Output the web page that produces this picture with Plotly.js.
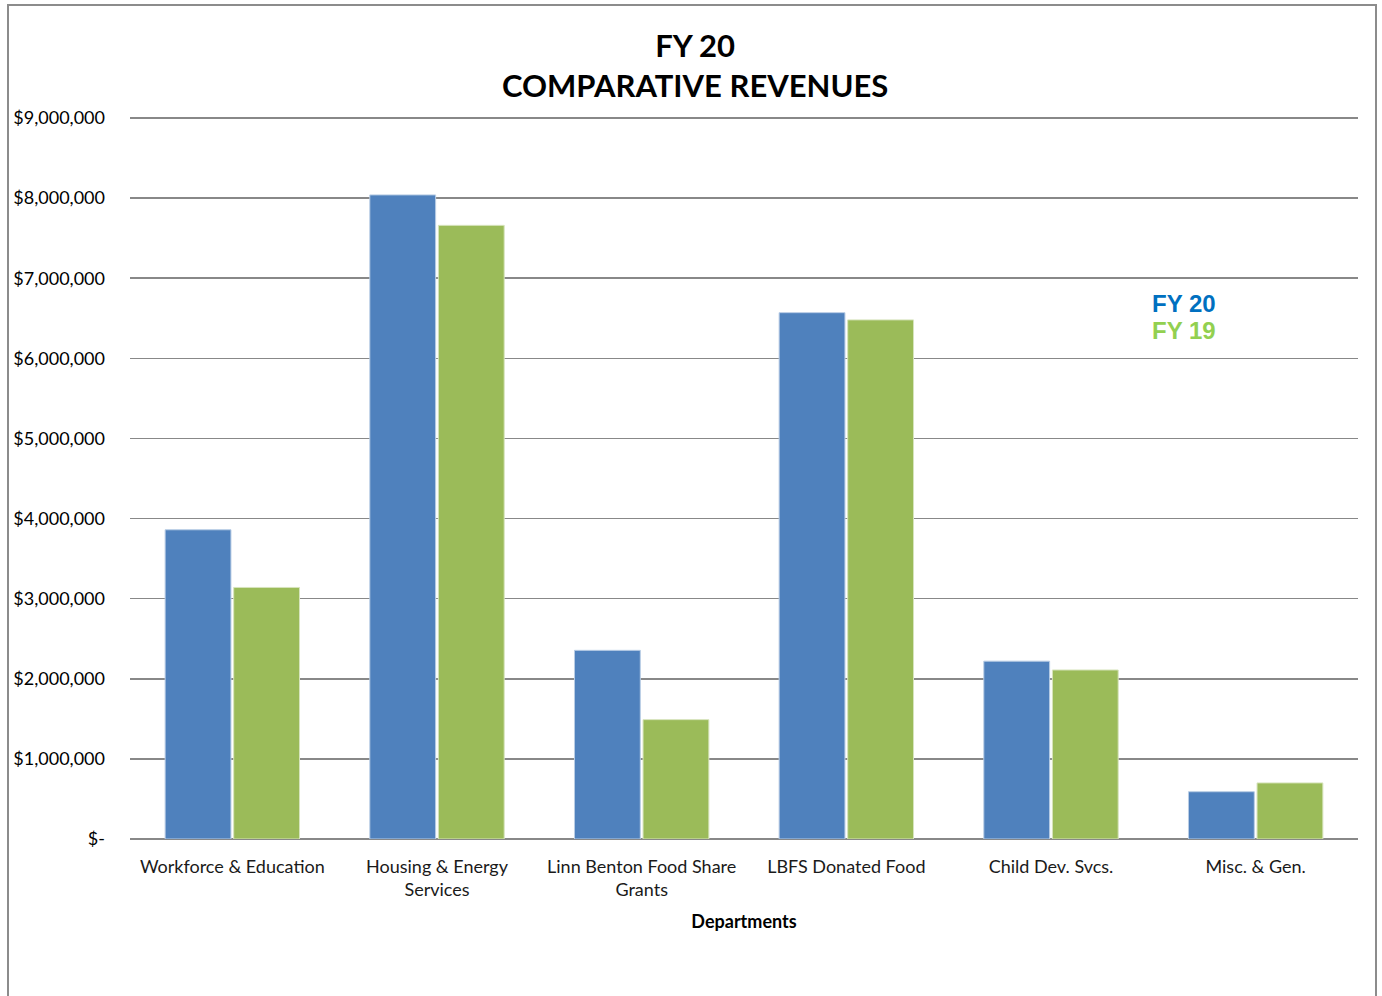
<!DOCTYPE html>
<html>
<head>
<meta charset="utf-8">
<script src="https://cdn.plot.ly/plotly-3.0.1.min.js"></script>
<style>
  html, body { margin: 0; padding: 0; background: #ffffff; }
  #chart { width: 1382px; height: 996px; }
  #frame { position: absolute; left: 7px; top: 4px; width: 1370px; height: 1010px;
           border: 2px solid #8c8c8c; pointer-events: none; box-sizing: border-box; }
</style>
</head>
<body>
<div id="chart"></div>
<div id="frame"></div>
<script>
const categories = ["Workforce & Education", "Housing & Energy<br>Services", "Linn Benton Food Share<br>Grants", "LBFS Donated Food", "Child Dev. Svcs.", "Misc. & Gen."];
const seriesNames = ["FY 20", "FY 19"];
const fy20 = [3860000, 8040000, 2355000, 6570000, 2220000, 590000];
const fy19 = [3140000, 7660000, 1490000, 6480000, 2110000, 700000];
const tickVals = [0, 1000000, 2000000, 3000000, 4000000, 5000000, 6000000, 7000000, 8000000, 9000000];
const tickText = ["$-", "$1,000,000", "$2,000,000", "$3,000,000", "$4,000,000", "$5,000,000", "$6,000,000", "$7,000,000", "$8,000,000", "$9,000,000"];

const barColors = ["#4F81BD", "#9BBB59"];
const legendColors = ["#0070C0", "#92D050"];

const traces = [
  { type: "bar", name: seriesNames[0], x: categories, y: fy20,
    marker: { color: barColors[0], line: { color: "#b9cde5", width: 1 } }, hoverinfo: "skip" },
  { type: "bar", name: seriesNames[1], x: categories, y: fy19,
    marker: { color: barColors[1], line: { color: "#d7e4bd", width: 1 } }, hoverinfo: "skip" }
];

const layout = {
  width: 1382, height: 996,
  margin: { l: 130, r: 24, t: 113.5, b: 156.5 },
  paper_bgcolor: "#ffffff", plot_bgcolor: "#ffffff",
  font: { family: "Lato, 'Open Sans', sans-serif", color: "#000000" },
  title: { text: "<b>FY 20<br>COMPARATIVE REVENUES</b>", xref: "container", x: 0.503,
           yref: "container", y: 0.943, yanchor: "top",
           font: { size: 31, color: "#000000", family: "Lato, sans-serif" } },
  barmode: "group", bargap: 0.33, bargroupgap: 0.04,
  showlegend: false,
  xaxis: {
    type: "category", showgrid: false, showline: false, ticks: "",
    tickfont: { size: 18, color: "#1a1a1a" }, ticklabelstandoff: 15,
    title: { text: "<b>Departments</b>", font: { size: 18, color: "#000000" }, standoff: 15 }
  },
  yaxis: {
    range: [0, 9050000], tickvals: tickVals, ticktext: tickText,
    showgrid: true, gridcolor: "#888888", gridwidth: 1.5,
    zeroline: true, zerolinecolor: "#888888", zerolinewidth: 1.5,
    showline: false, ticks: "", ticklabelstandoff: 24,
    tickfont: { size: 18, color: "#000000" }
  },
  annotations: seriesNames.map((n, i) => ({
    xref: "paper", yref: "paper", x: 0.8585, y: [0.739, 0.7018][i],
    xanchor: "center", yanchor: "middle", showarrow: false,
    text: "<b>" + n + "</b>",
    font: { family: "'Liberation Sans', Arial, sans-serif", size: 24, color: legendColors[i] }
  }))
};

Plotly.newPlot("chart", traces, layout, { displayModeBar: false, staticPlot: true });
</script>
</body>
</html>
